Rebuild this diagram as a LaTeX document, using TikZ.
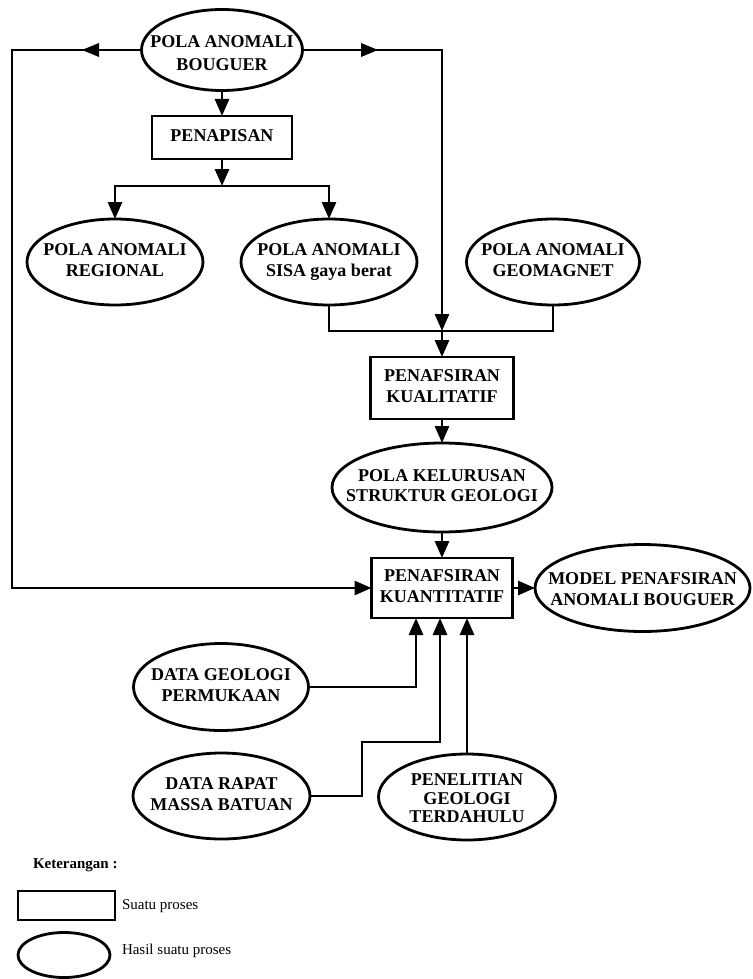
\documentclass[tikz,border=0pt]{standalone}
\usepackage{fontspec}
\setmainfont{Liberation Serif}
\usetikzlibrary{arrows.meta,shapes.geometric}

\newcommand{\boxfont}{\fontsize{18}{20.5}\selectfont\bfseries}
\newcommand{\legfont}{\fontsize{15}{17}\selectfont}
\newcommand{\teks}[1]{\makebox[0pt]{\begin{tabular}{@{}c@{}}#1\end{tabular}}}
\newcommand{\turun}[2]{\raisebox{-#1}[\height][\depth]{#2}}

\tikzset{
  proses/.style={draw=black, rectangle, line width=2.800pt, font=\boxfont},
  hasil/.style={draw=black, ellipse, line width=2.800pt, font=\boxfont},
  garis/.style={draw=black, line width=2.800pt},
  alur/.style={garis, -{Triangle[length=17pt,width=14pt]}},
}

\begin{document}
\begin{tikzpicture}[y=1pt, x=1pt, yscale=-1, inner sep=0pt, outer sep=0pt]
\useasboundingbox (0,0) rectangle (752,979);

% nodes
\node[hasil, minimum width=161, minimum height=81] (bouguer) at (222,50) {\turun{5pt}{\teks{POLA ANOMALI\\[3pt]BOUGUER}}};
\node[proses, minimum width=140, minimum height=43] (penapisan) at (222,137.5) {\teks{PENAPISAN}};
\node[hasil, minimum width=176, minimum height=86] (regional) at (115,262) {\teks{POLA ANOMALI\\REGIONAL}};
\node[hasil, minimum width=176, minimum height=86] (sisa) at (329,262) {\teks{POLA ANOMALI\\SISA gaya berat}};
\node[hasil, minimum width=173, minimum height=86] (geomagnet) at (553,262) {\teks{POLA ANOMALI\\GEOMAGNET}};
\node[proses, minimum width=143, minimum height=62] (kualitatif) at (442,388) {\teks{PENAFSIRAN\\KUALITATIF}};
\node[hasil, minimum width=220, minimum height=89] (kelurusan) at (442,487.5) {\teks{POLA KELURUSAN\\STRUKTUR GEOLOGI}};
\node[proses, minimum width=141, minimum height=60] (kuantitatif) at (442,588) {\teks{PENAFSIRAN\\KUANTITATIF}};
\node[hasil, minimum width=215, minimum height=87] (model) at (642.5,588) {\turun{3pt}{\teks{MODEL PENAFSIRAN\\ANOMALI BOUGUER}}};
\node[hasil, minimum width=175, minimum height=87] (geologi) at (221,687) {\teks{DATA GEOLOGI\\PERMUKAAN}};
\node[hasil, minimum width=177, minimum height=86] (rapat) at (221.5,796) {\teks{DATA RAPAT\\MASSA BATUAN}};
\node[hasil, minimum width=177, minimum height=86] (terdahulu) at (467,797) {\turun{3pt}{\teks{PENELITIAN\\[-2pt]GEOLOGI\\[-2pt]TERDAHULU}}};

\coordinate (kiri) at (12,50);
\coordinate (cabang) at (222,186);
\coordinate (gabung) at (442,331);
\coordinate (belok) at (362,742);

% connectors
\draw[alur] (bouguer) -- (penapisan);
\draw[alur] (penapisan) -- (cabang);
\draw[alur] (cabang) -| (regional);
\draw[alur] (cabang) -| (sisa);
\draw[alur] (bouguer.west) -- (kiri) |- (kuantitatif.west);
\draw[alur] (bouguer.east) -| (gabung);
\draw[garis] (sisa.south) |- (gabung) -| (geomagnet.south);
\draw[alur] (gabung) -- (kualitatif);
\draw[alur] (kualitatif) -- (kelurusan);
\draw[alur] (kelurusan) -- (kuantitatif);
\draw[alur] (kuantitatif) -- (model);
\draw[alur] (geologi) -| ([xshift=-26pt]kuantitatif.south);
\draw[alur] (rapat) -| (belok) -| ([xshift=-2pt]kuantitatif.south);
\draw[alur] (terdahulu.north) -- (terdahulu.north |- kuantitatif.south);

% arrows half way on the top line
\path[fill=black] (82,50) -- (99,43) -- (99,57) -- cycle;
\path[fill=black] (378,50) -- (361,43) -- (361,57) -- cycle;

% legend
\node[anchor=west, font=\legfont\bfseries] (keterangan) at (33,865) {Keterangan :};
\node[proses, minimum width=97, minimum height=29] (lgproses) at (66.5,905.5) {};
\node[anchor=west, font=\legfont] (lgprosesteks) at (122,906) {Suatu proses};
\node[hasil, minimum width=92, minimum height=45] (lghasil) at (64,955) {};
\node[anchor=west, font=\legfont] (lghasilteks) at (122,951) {Hasil suatu proses};
\end{tikzpicture}
\end{document}
